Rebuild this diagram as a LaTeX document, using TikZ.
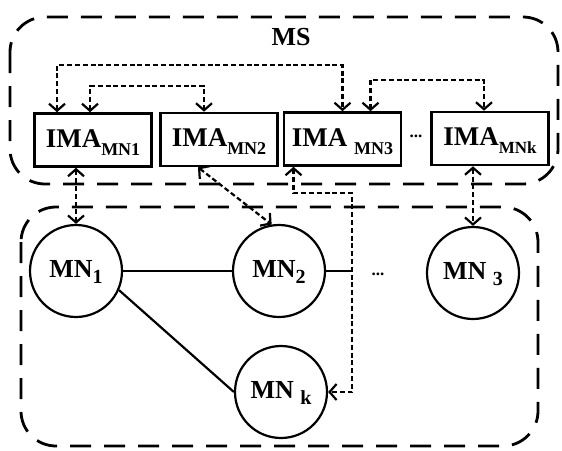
\documentclass[tikz,border=0pt]{standalone}
\usepackage{fontspec}
\setmainfont{Liberation Serif}
\usetikzlibrary{arrows.meta}
\newcommand{\lowidx}[3]{\raisebox{#1}{\fontsize{#2}{#2}\selectfont #3}}

\begin{document}
\begin{tikzpicture}[x=1pt, y=-1pt]
	\tikzstyle{region} = [draw, line width=2.8pt, dash pattern=on 21pt off 13pt, rounded corners=35pt]
	\tikzstyle{agent} = [draw, rectangle, line width=2.6pt, minimum width=117pt, minimum height=53pt, inner sep=0pt, text height=14pt, text depth=0pt, font=\bfseries\fontsize{27}{27}\selectfont]
	\tikzstyle{mnode} = [draw, circle, line width=2.2pt, minimum size=92pt, inner sep=0pt, text height=12pt, text depth=0pt, font=\bfseries\fontsize{26}{26}\selectfont]
	\tikzstyle{link} = [<->, >={Straight Barb[length=7pt,width=16pt]}, line width=2.2pt, dash pattern=on 5pt off 2.8pt]
	\tikzstyle{solid link} = [-, line width=2.2pt]
	\useasboundingbox (0,0) rectangle (562,450);
	\draw [region] (10,17) rectangle (558,184);
	\draw [region] (21,207) rectangle (538,446);
	\node [anchor=base, font=\bfseries\fontsize{26}{26}\selectfont] (ms) at (291,45) {MS};
	\node [agent] (ima1) at (93,140) {IMA\lowidx{-8pt}{18}{MN1}};
	\node [agent] (ima2) at (219,139.5) {IMA\lowidx{-8pt}{18}{MN2}};
	\node [agent] (ima3) at (342.5,139) {IMA \lowidx{-8pt}{18}{MN3}};
	\node [agent] (imak) at (490,138.5) {IMA\lowidx{-8pt}{17}{MNk}};
	\node [font=\bfseries\fontsize{17}{17}\selectfont] (dots1) at (416,136) {...};
	\node [mnode] (mn1) at (76,271) {MN\lowidx{-6pt}{20}{1}};
	\node [mnode] (mn2) at (279,271) {MN\lowidx{-6pt}{20}{2}};
	\node [mnode] (mn3) at (473,273) {MN \lowidx{-6pt}{20}{3}};
	\node [mnode] (mnk) at (281,392) {MN \lowidx{-6pt}{20}{k}};
	\node [font=\bfseries\fontsize{17}{17}\selectfont] (dots2) at (378,274) {...};
	\coordinate (junc) at (351,271);
	\draw [solid link] (mn1) -- (mn2);
	\draw [solid link] (mn2) -- (junc);
	\draw [solid link] (mn1.-24) -- (mnk.west);
	\draw [link] ([xshift=-36pt]ima1.north) -- ++(0,-47) -| (ima3.north);
	\draw [link] ([xshift=-3pt]ima1.north) -- ++(0,-26) -| ([xshift=-15pt]ima2.north);
	\draw [link] ([xshift=28pt]ima3.north) -- ++(0,-31) -| ([xshift=-6pt]imak.north);
	\draw [link] (mn1.north |- ima1.south) -- (mn1.north);
	\draw [link] ([xshift=-21pt]ima2.south) -- (mn2.99);
	\draw [link] ([xshift=-49pt]ima3.south) -- ++(0,26) -| ([xshift=24pt]mnk.east) -- (mnk.east);
	\draw [link] (mn3.north |- imak.south) -- (mn3.north);
\end{tikzpicture}
\end{document}
